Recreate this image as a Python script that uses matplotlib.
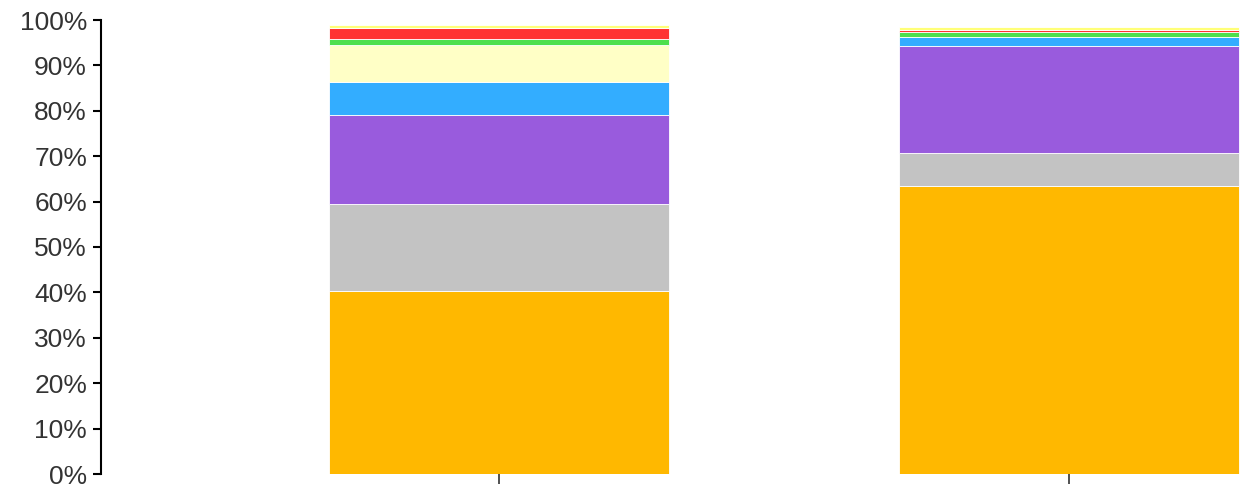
import numpy as np
import matplotlib.pyplot as plt

plt.rcParams['font.family'] = ['Liberation Sans', 'DejaVu Sans']

# two stacked columns, shares in percent (bottom to top)
groups = ['A', 'B']
orange = [40.3, 63.4]
gray = [19.2, 7.3]
purple = [19.6, 23.6]
blue = [7.2, 1.9]
lightyellow = [8.2, 0.0]
green = [1.3, 1.2]
red = [2.4, 0.5]
yellow = [0.6, 0.6]

series = [orange, gray, purple, blue, lightyellow, green, red, yellow]
colors = ['#ffb800', '#c3c3c3', '#995bdd', '#33adff', '#ffffc6', '#4ddf4d', '#ff3333', '#ffff77']

fig = plt.figure(figsize=(12.41, 4.84), dpi=100)
ax = fig.add_axes([101 / 1241, 10 / 484, 1366 / 1241, 454 / 484])

x = np.arange(len(groups))
bottom = np.zeros(len(groups))
for vals, c in zip(series, colors):
    vals = np.array(vals)
    ax.bar(x, vals, width=340 / 570, bottom=bottom, color=c,
           edgecolor='white', linewidth=0.6)
    bottom += vals

ax.set_xlim(-0.698, 1.698)
ax.set_ylim(0, 100)
ax.set_yticks(np.arange(0, 101, 10))
ax.set_yticklabels([f'{v}%' for v in range(0, 101, 10)])
ax.set_xticks(x)
ax.set_xticklabels([])

for s in ['top', 'right', 'bottom']:
    ax.spines[s].set_visible(False)
ax.spines['left'].set_linewidth(1.5)
ax.tick_params(axis='y', length=6, width=1.5, labelsize=19, labelcolor='#333333', pad=4)
ax.tick_params(axis='x', length=7, width=1.2, color='#333333')

fig.savefig('out.png', dpi=100)
